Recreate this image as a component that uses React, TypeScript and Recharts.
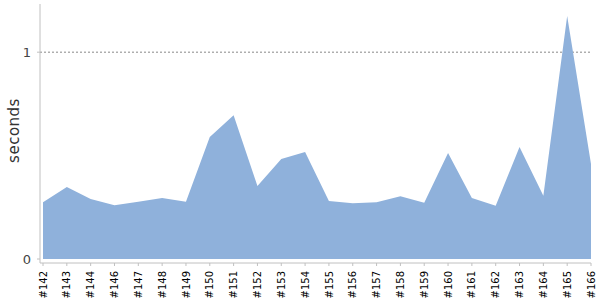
import React from "react";
import { AreaChart, Area, XAxis, YAxis, CartesianGrid, Label } from "recharts";

const builds = [
  "#142", "#143", "#144", "#146", "#147", "#148", "#149", "#150", "#151", "#152", "#153", "#154",
  "#155", "#156", "#157", "#158", "#159", "#160", "#161", "#162", "#163", "#164", "#165", "#166",
];

const seconds = [
  0.275, 0.348, 0.29, 0.26, 0.277, 0.295, 0.277, 0.59, 0.695, 0.353, 0.483, 0.517,
  0.28, 0.27, 0.275, 0.304, 0.272, 0.512, 0.295, 0.257, 0.541, 0.306, 1.175, 0.459,
];

const yTicks = [0, 1];

const data = builds.map((name, i) => ({ name, value: seconds[i] }));

const font = "'DejaVu Sans', Verdana, sans-serif";

function BuildTick(props: any) {
  const { x, y, payload } = props;
  return (
    <g transform={`translate(${x},${y})`}>
      <text
        transform="rotate(-90)"
        x={-3}
        y={0}
        dy="0.36em"
        textAnchor="end"
        fill="#000"
        fontSize={10}
        fontFamily={font}
      >
        {payload.value}
      </text>
    </g>
  );
}

export default function App() {
  return (
    <div style={{ position: "absolute", left: 0, top: 0 }}>
      <AreaChart
        width={600}
        height={300}
        data={data}
        margin={{ top: 4, right: 9, bottom: 0, left: 0 }}
      >
        <CartesianGrid
          vertical={false}
          stroke="#888"
          strokeDasharray="2 2"
          horizontalValues={[1]}
        />
        <XAxis
          dataKey="name"
          interval={0}
          height={37}
          padding={{ left: 3, right: 0 }}
          tick={<BuildTick />}
          tickSize={3}
          axisLine={{ stroke: "#c0c0c0" }}
          tickLine={{ stroke: "#c0c0c0" }}
        />
        <YAxis
          width={40}
          domain={[0, 1.233]}
          ticks={yTicks}
          padding={{ top: 0, bottom: 4 }}
          tickSize={3}
          tickMargin={6}
          axisLine={{ stroke: "#c0c0c0" }}
          tickLine={{ stroke: "#c0c0c0" }}
          tick={{ fill: "#444", fontSize: 13, fontFamily: font }}
        >
          <Label
            value="seconds"
            angle={-90}
            position="center"
            dx={-6}
            dy={-3}
            style={{ fill: "#333", fontSize: 15, letterSpacing: 0.5, fontFamily: font }}
          />
        </YAxis>
        <Area
          type="linear"
          dataKey="value"
          stroke="none"
          fill="#8fb1db"
          fillOpacity={1}
          isAnimationActive={false}
        />
      </AreaChart>
    </div>
  );
}
